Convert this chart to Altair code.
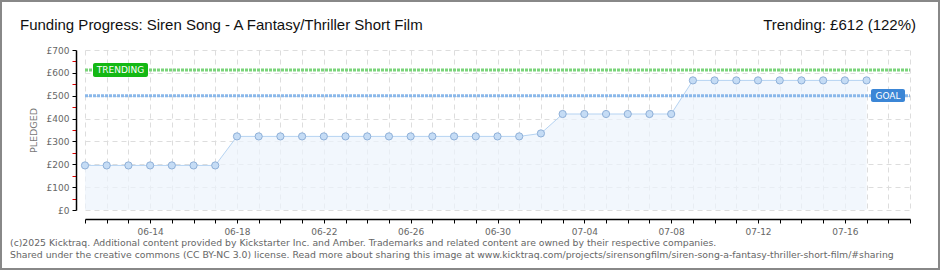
import altair as alt
import pandas as pd

dates = [
    "2025-06-11", "2025-06-12", "2025-06-13", "2025-06-14", "2025-06-15", "2025-06-16", "2025-06-17",
    "2025-06-18", "2025-06-19", "2025-06-20", "2025-06-21", "2025-06-22", "2025-06-23", "2025-06-24",
    "2025-06-25", "2025-06-26", "2025-06-27", "2025-06-28", "2025-06-29", "2025-06-30", "2025-07-01",
    "2025-07-02", "2025-07-03", "2025-07-04", "2025-07-05", "2025-07-06", "2025-07-07", "2025-07-08",
    "2025-07-09", "2025-07-10", "2025-07-11", "2025-07-12", "2025-07-13", "2025-07-14", "2025-07-15",
    "2025-07-16", "2025-07-17",
]
pledged = [
    195, 195, 195, 195, 195, 195, 195,
    322, 322, 322, 322, 322, 322, 322,
    322, 322, 322, 322, 322, 322, 322,
    335, 420, 420, 420, 420, 420, 420,
    567, 567, 567, 567, 567, 567, 567,
    567, 567,
]
x_labels = ["06-14", "06-18", "06-22", "06-26", "06-30", "07-04", "07-08", "07-12", "07-16"]
x_domain = ["2025-06-11", "2025-07-19"]
goal = 500
trending = 612
title_text = "Funding Progress: Siren Song - A Fantasy/Thriller Short Film"
trend_text = "Trending: £612 (122%)"
footer1 = "(c)2025 Kicktraq. Additional content provided by Kickstarter Inc. and Amber. Trademarks and related content are owned by their respective companies."
footer2 = "Shared under the creative commons (CC BY-NC 3.0) license. Read more about sharing this image at www.kicktraq.com/projects/sirensongfilm/siren-song-a-fantasy-thriller-short-film/#sharing"

df = pd.DataFrame({"date": dates, "pledged": pledged})

day_values = [alt.DateTime(year=2025, month=6, date=d, utc=True) for d in range(11, 31)] + \
             [alt.DateTime(year=2025, month=7, date=d, utc=True) for d in range(1, 20)]

label_test = " || ".join(f"utcFormat(datum.value, '%m-%d') === '{s}'" for s in x_labels)
x_scale = alt.Scale(type="utc", domain=x_domain)
y_scale = alt.Scale(domain=[0, 700])

FONT = "DejaVu Sans"

x_axis = alt.Axis(
    values=day_values,
    labelExpr=f"({label_test}) ? utcFormat(datum.value, '%m-%d') : ''",
    title=None, offset=9, domainColor="#000", domainWidth=1.5, tickColor="#000", tickSize=4,
    labelColor="#666", labelFont=FONT, labelFontSize=9, labelPadding=4, labelOverlap=False,
    grid=True, gridColor="#dddddd", gridDash=[5, 4], labelFlush=False, labelBound=False,
)
y_axis = alt.Axis(
    values=list(range(0, 701, 50)),
    labelExpr="datum.value % 100 === 0 ? '£' + datum.value : ''",
    title="PLEDGED", titleColor="#777", titleFont=FONT, titleFontSize=9.5, titleFontWeight="normal",
    titlePadding=8, offset=9, domainColor="#000", domainWidth=1.5,
    tickColor={"condition": {"test": "datum.value % 100 === 0", "value": "#000"}, "value": "#e00000"},
    tickSize=4, labelColor="#666", labelFont=FONT, labelFontSize=9, labelPadding=3,
    labelOverlap=False, labelFlush=False, labelBound=False,
    grid=True, gridColor="#dddddd", gridDash=[5, 4],
    gridOpacity={"condition": {"test": "datum.value % 100 === 0", "value": 1}, "value": 0},
)

base = alt.Chart(df)

area = base.mark_area(color="#edf4fc", line={"color": "#b5d3f2", "strokeWidth": 1}).encode(
    x=alt.X("date:T", scale=x_scale, axis=x_axis),
    y=alt.Y("pledged:Q", scale=y_scale, axis=y_axis),
)
points = base.mark_circle(size=52, color="#c5dcf5", stroke="#8fb0d8", strokeWidth=1, opacity=1).encode(
    x=alt.X("date:T", scale=x_scale, axis=x_axis),
    y=alt.Y("pledged:Q", scale=y_scale, axis=y_axis),
)

def ydat(v):
    return alt.YDatum(v, scale=y_scale, axis=y_axis)

trend_line = alt.Chart().mark_rule(color="#7ad47a", strokeWidth=3, strokeDash=[3, 1]).encode(
    y=ydat(trending), x=alt.value(0), x2=alt.value(825))
goal_line = alt.Chart().mark_rule(color="#8ab8ea", strokeWidth=3, strokeDash=[3, 1]).encode(
    y=ydat(goal), x=alt.value(0), x2=alt.value(825))

trend_box = alt.Chart().mark_rect(color="#14b814", cornerRadius=2).encode(
    x=alt.value(8), x2=alt.value(63), y=alt.value(13), y2=alt.value(27))
trend_lbl = alt.Chart().mark_text(text="TRENDING", color="white", font=FONT, fontSize=9, align="center",
                                  baseline="middle").encode(x=alt.value(35.5), y=ydat(trending))
goal_box = alt.Chart().mark_rect(color="#3b86d6", cornerRadius=2).encode(
    x=alt.value(786), x2=alt.value(820), y=alt.value(39), y2=alt.value(52))
goal_lbl = alt.Chart().mark_text(text="GOAL", color="white", font=FONT, fontSize=9, align="center",
                                 baseline="middle").encode(x=alt.value(803), y=ydat(goal))

title = alt.Chart().mark_text(text=title_text, font="Liberation Sans", fontSize=15, color="#111",
                              align="left", baseline="alphabetic").encode(x=alt.value(-65), y=alt.value(-20))
trend_title = alt.Chart().mark_text(text=trend_text, font="Liberation Sans", fontSize=15, color="#111",
                                    align="right", baseline="alphabetic").encode(x=alt.value(831), y=alt.value(-20))
foot1 = alt.Chart().mark_text(text=footer1, font=FONT, fontSize=9.3, color="#666", align="left",
                              baseline="alphabetic").encode(x=alt.value(-75), y=alt.value(196))
foot2 = alt.Chart().mark_text(text=footer2, font=FONT, fontSize=9.3, color="#666", align="left",
                              baseline="alphabetic").encode(x=alt.value(-75), y=alt.value(208))
border = alt.Chart().mark_rect(fill=None, stroke="#888", strokeWidth=2).encode(
    x=alt.value(-84), x2=alt.value(854), y=alt.value(-49), y2=alt.value(219))

chart = alt.layer(
    area, trend_line, goal_line, points, trend_box, trend_lbl, goal_box, goal_lbl,
    title, trend_title, foot1, foot2, border,
).properties(
    width=825, height=160,
    padding={"left": 85, "top": 50, "right": 30, "bottom": 60},
    autosize=alt.AutoSizeParams(type="none"),
    background="white",
).configure_view(stroke=None)

chart.save("out.html", embed_options={"renderer": "svg", "actions": False})
